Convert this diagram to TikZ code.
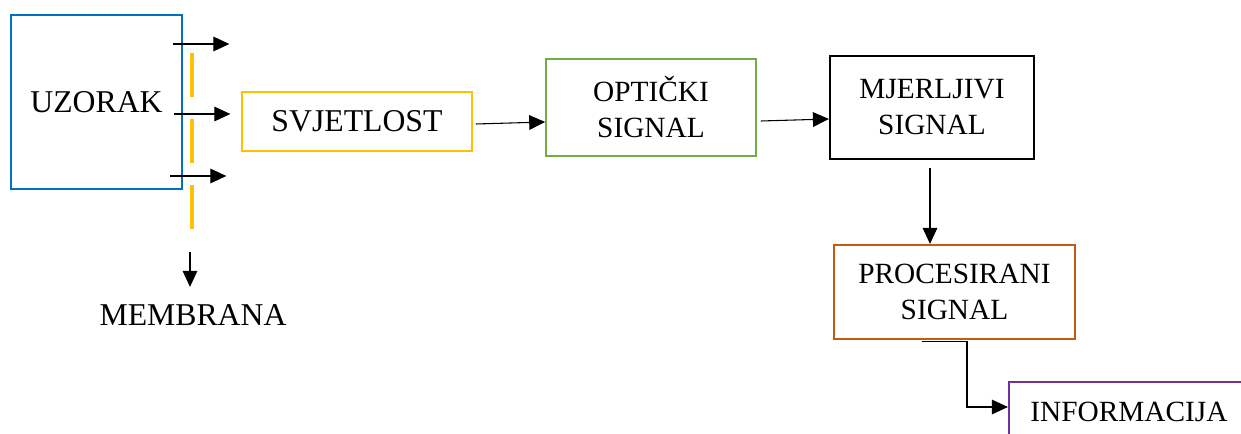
\documentclass[tikz,border=0pt]{standalone}
\usepackage{fontspec}
\setmainfont{Liberation Serif}
\usetikzlibrary{calc,arrows.meta}
\definecolor{cblue}{HTML}{0070C0}
\definecolor{cyellow}{HTML}{FFC000}
\definecolor{cgreen}{HTML}{70AD47}
\definecolor{corange}{HTML}{C55A11}
\definecolor{cpurple}{HTML}{7030A0}
\tikzset{
  box/.style={draw, rectangle, inner sep=0pt, align=center, font=\fontsize{22}{27}\selectfont},
  bigtxt/.style={font=\fontsize{23.8}{28}\selectfont},
  arr/.style={-{Triangle[length=12pt,width=11pt]}, line width=0.8pt},
}
\begin{document}
\begin{tikzpicture}[x=0.75pt,y=-0.75pt]
\useasboundingbox (0,0) rectangle (1241,434);
\clip (0,0) rectangle (1241,434);
% boxes
\node[box, bigtxt, draw=cblue, line width=2pt, minimum width=128.25pt, minimum height=130.5pt] (uzorak) at (96.5,102) {UZORAK};
\node[box, bigtxt, draw=cyellow, line width=1.2pt, minimum width=172.5pt, minimum height=44.25pt] (svjetlost) at (357,121.5) {SVJETLOST};
\node[box, draw=cgreen, line width=1.2pt, minimum width=157.5pt, minimum height=72.75pt] (optic) at (651,107.5) {OPTIČKI\\SIGNAL};
\node[box, draw=black, line width=1.6pt, minimum width=153pt, minimum height=77.25pt] (mjer) at (932,107.5) {MJERLJIVI\\SIGNAL};
\node[box, draw=corange, line width=1.7pt, minimum width=180.75pt, minimum height=70.5pt] (proc) at (954.5,292) {PROCESIRANI\\SIGNAL};
\node[box, draw=cpurple, line width=1.7pt, minimum width=180pt, minimum height=45pt] (info) at (1129,412) {INFORMACIJA};
\node[bigtxt, inner xsep=0pt, inner ysep=13pt] (membrana) at (193,315) {MEMBRANA};
% membrane
\coordinate (memtop) at (192,53);
\coordinate (membot) at (192,229);
\draw[cyellow, line width=2.5pt, dash pattern=on 33pt off 16.5pt] (memtop) -- (membot);
% arrows out of sample
\coordinate (s1) at ($(uzorak.east)+(-10,-58)$);
\coordinate (e1) at ($(uzorak.east)+(46,-58)$);
\coordinate (s2) at ($(uzorak.east)+(-9,12)$);
\coordinate (e2) at ($(uzorak.east)+(47,12)$);
\coordinate (s3) at ($(uzorak.east)+(-13,74)$);
\coordinate (e3) at ($(uzorak.east)+(43,74)$);
\draw[arr] (s1) -- (e1);
\draw[arr] (s2) -- (e2);
\draw[arr] (s3) -- (e3);
\coordinate (mstart) at (190,252);
\draw[arr] (mstart) -- (mstart |- membrana.north);
% chain
\draw[arr] ($(svjetlost.east)+(3,2.5)$) -- ($(optic.west)+(0,14.5)$);
\draw[arr] ($(optic.east)+(4,13.5)$) -- ($(mjer.west)+(0,11.5)$);
\draw[arr] ($(mjer.south)+(-2,8)$) -- ($(proc.north)+(-24.5,0)$);
\draw[arr] ($(proc.south)+(-32.5,1)$) -- ++(45,0) |- ($(info.west)+(0,-5)$);
\end{tikzpicture}
\end{document}
